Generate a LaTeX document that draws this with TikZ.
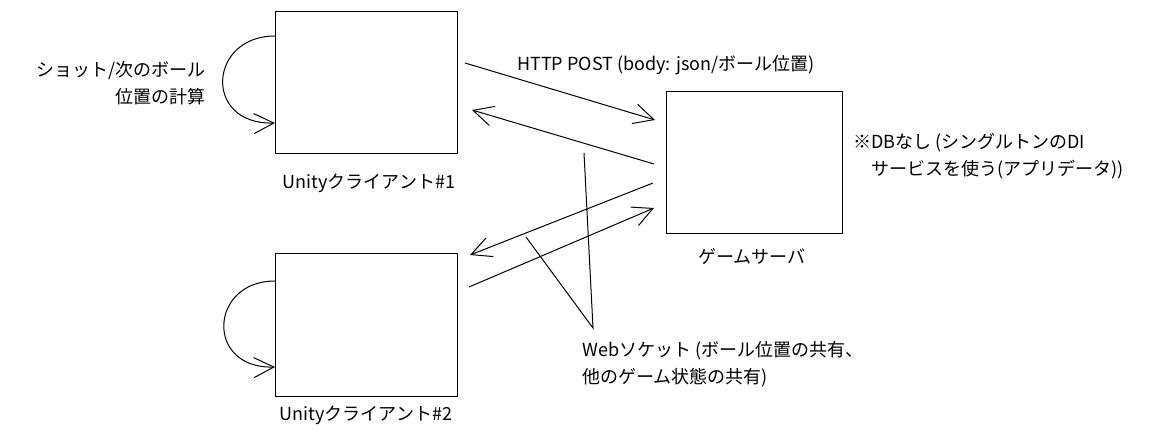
\documentclass[tikz,border=0pt]{standalone}
\usepackage{fontspec}
\setmainfont{Noto Sans CJK JP}
\usetikzlibrary{arrows.meta}
\tikzset{
  box/.style={draw, line width=0.75pt, inner sep=0pt, outer sep=0pt, minimum width=136.5pt, minimum height=106.5pt},
  link/.style={line width=0.75pt, -{Straight Barb[length=15pt,width=15pt]}},
  pointer/.style={line width=0.75pt},
  lbl/.style={inner sep=0pt, font=\fontsize{13.5}{20.25}\selectfont},
}

\begin{document}
\begin{tikzpicture}[x=0.75pt,y=0.75pt,yscale=-1,xscale=1]
\fill[white] (0,0) rectangle (1154,431);
\useasboundingbox (0,0) rectangle (1154,431);

%Shape: Rectangle [client1]
\node[box] (client1) at (366,83) {};
%Shape: Rectangle [server]
\node[box, minimum width=132pt] (server) at (754,163) {};
%Shape: Rectangle [client2]
\node[box] (client2) at (366,325) {};

% Text Node
\node[lbl] (client1 lbl) at (369,183) {Unityクライアント\#1};
\node[lbl] (server lbl) at (752,257) {ゲームサーバ};
\node[lbl] (client2 lbl) at (366,415) {Unityクライアント\#2};
\node[lbl, anchor=east, align=right] (calc lbl) at (206,83) {ショット/次のボール\\位置の計算};
\node[lbl, anchor=west] (post lbl) at (517,65) {HTTP POST (body: json/ボール位置)};
\node[lbl, anchor=west, align=left] (ws lbl) at (582,364) {Webソケット (ボール位置の共有、\\他のゲーム状態の共有)};
\node[lbl, anchor=west, align=left] (db lbl) at (853,156) {※DBなし (シングルトンのDI\\\hphantom{※}サービスを使う(アプリデータ))};

%Coordinates: connector ends
\coordinate (post s) at (465,63);
\coordinate (post e) at (655,120);
\coordinate (resp s) at (654,164);
\coordinate (resp e) at (472,110);
\coordinate (wsdn s) at (653,183);
\coordinate (wsdn e) at (470,255);
\coordinate (wsup s) at (469,287);
\coordinate (wsup e) at (654,208);
\coordinate (ws tip) at (593,328);
\coordinate (ws a) at (584,153);
\coordinate (ws b) at (526,237);

%Arrows: HTTP
\draw[link] (post s) -- (post e);
\draw[link] (resp s) -- (resp e);
%Arrows: Web socket
\draw[link] (wsdn s) -- (wsdn e);
\draw[link] (wsup s) -- (wsup e);
%Lines: pointer to label
\draw[pointer] (ws a) -- (ws tip) -- (ws b);

%Curve: self loops
\draw[link] (client1.north west) ++(0,24) .. controls (208,36) and (203,125) .. (275,123);
\draw[link] (client2.north west) ++(0,27) .. controls (209,281) and (205,369) .. (275,367);

\end{tikzpicture}
\end{document}
